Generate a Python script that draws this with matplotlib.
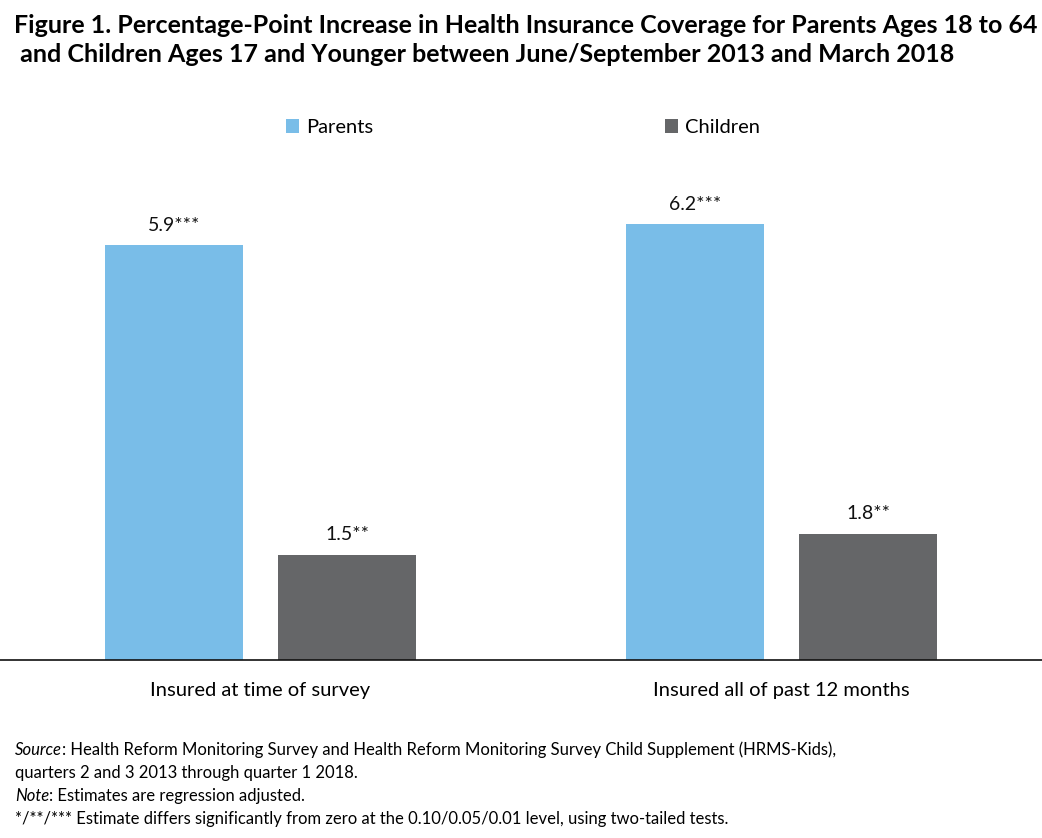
import matplotlib
matplotlib.use("Agg")
import matplotlib.pyplot as plt
import numpy as np

plt.rcParams['font.family'] = ['Lato', 'DejaVu Sans']

# data
categories = ["Insured at time of survey", "Insured all of past 12 months"]
parents = [5.9, 6.2]
children = [1.5, 1.8]
parents_lbl = ["5.9***", "6.2***"]
children_lbl = ["1.5**", "1.8**"]

c_par = "#79BDE8"
c_chi = "#656668"

fig = plt.figure(figsize=(10.42, 8.38), dpi=100)
ax = fig.add_axes([0.0, 0.2124, 1.0, 0.5728])

x = np.arange(len(categories))
w = 0.265
off = 0.166
b1 = ax.bar(x - off, parents, w, color=c_par, label="Parents")
b2 = ax.bar(x + off, children, w, color=c_chi, label="Children")

for bars, lbls in ((b1, parents_lbl), (b2, children_lbl)):
    for b, s in zip(bars, lbls):
        ax.annotate(s, (b.get_x() + b.get_width() / 2, b.get_height()),
                    xytext=(0, 8), textcoords="offset points",
                    ha="center", va="bottom", fontsize=14, color="#111111")

ax.set_xlim(-0.5, 1.5)
ax.set_ylim(0, 6.83)
ax.set_xticks(x)
ax.set_xticklabels(categories, fontsize=14.5)
ax.tick_params(axis="x", length=0, pad=16)
ax.set_yticks([])
for sp in ["top", "right", "left"]:
    ax.spines[sp].set_visible(False)
ax.spines["bottom"].set_color("#111111")
ax.spines["bottom"].set_linewidth(1.2)

# legend
leg = fig.legend(handles=[b1, b2], loc="center", bbox_to_anchor=(0.502, 0.848),
                 ncol=2, frameon=False, fontsize=14.5, handlelength=0.65,
                 handleheight=0.65, handletextpad=0.35, columnspacing=14.5)

fig.text(0.0135, 0.983, "Figure 1. Percentage-Point Increase in Health Insurance Coverage for Parents Ages 18 to 64\n"
         " and Children Ages 17 and Younger between June/September 2013 and March 2018",
         ha="left", va="top", fontsize=18, fontweight="bold", linespacing=1.3)

lines = [
    ("Source", ": Health Reform Monitoring Survey and Health Reform Monitoring Survey Child Supplement (HRMS-Kids),"),
    ("", "quarters 2 and 3 2013 through quarter 1 2018."),
    ("Note", ": Estimates are regression adjusted."),
    ("", "*/**/*** Estimate differs significantly from zero at the 0.10/0.05/0.01 level, using two-tailed tests."),
]
fig.canvas.draw()
rend = fig.canvas.get_renderer()
y0 = 750
for i, (it, rest) in enumerate(lines):
    yy = 1 - (y0 + i * 23) / 838
    xx = 15 / 1042
    if it:
        t = fig.text(xx, yy, it, fontsize=12, style="italic", va="center", ha="left")
        bb = t.get_window_extent(rend)
        xx = bb.x1 / fig.bbox.width
    fig.text(xx, yy, rest, fontsize=12, va="center", ha="left")

fig.savefig("out.png", dpi=100)
